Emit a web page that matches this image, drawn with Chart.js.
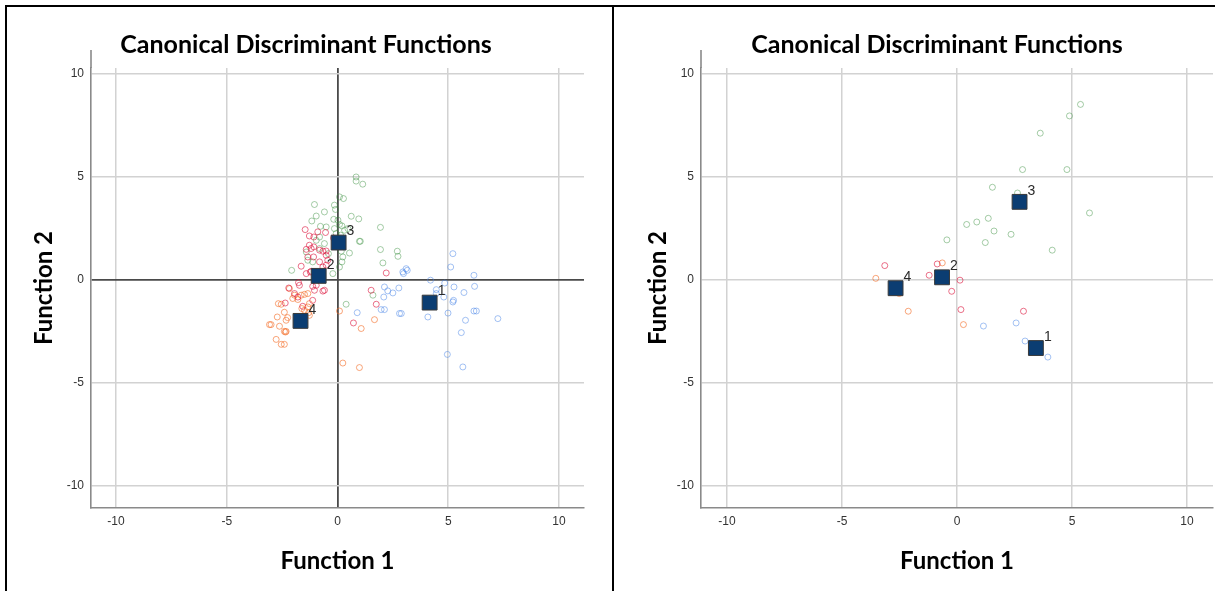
<!DOCTYPE html>
<html>
<head>
<meta charset="utf-8">
<script src="https://cdn.jsdelivr.net/npm/chart.js@4.4.1/dist/chart.umd.min.js"></script>
<style>
  html, body { margin: 0; padding: 0; background: #fff; overflow: hidden; }
  body { width: 1215px; height: 591px; position: relative; }
  canvas { position: absolute; }
  .frame { position: absolute; background: #000; }
</style>
</head>
<body>
<div class="frame" style="left:5px;top:5px;width:1210px;height:2px"></div>
<div class="frame" style="left:5px;top:5px;width:2px;height:586px"></div>
<div class="frame" style="left:612px;top:5px;width:2px;height:586px"></div>
<canvas id="chartLeft" width="596" height="583" style="left:8px;top:8px"></canvas>
<canvas id="chartRight" width="646" height="583" style="left:614px;top:8px"></canvas>

<script>
// tick labels and axis ranges (same for both panels)
const axisTicks = [-10, -5, 0, 5, 10];
const xRange = [-11.13, 11.13];
const yRange = [-11.1, 10.3];

const groupNames = ['1', '2', '3', '4'];
const groupColors = ['rgba(74,134,232,0.5)', 'rgba(220,20,60,0.6)', 'rgba(56,142,60,0.45)', 'rgba(244,106,37,0.6)'];

// left panel: [function 1, function 2] scores per group
const leftGroup1 = [[2.95,0.38],[3.15,0.46],[3.1,0.54],[2.98,0.3],[2.12,-0.35],[2.27,-0.54],[2.5,-0.64],[2.77,-0.4],[2.09,-0.84],
  [0.89,-1.6],[1.97,-1.45],[2.12,-1.45],[2.8,-1.64],[2.88,-1.64],[4.2,-0.02],[4.46,-0.48],[4.84,-0.16],[5.26,-0.35],[4.8,-0.84],
  [5.21,-1.08],[4.99,-1.62],[4.08,-1.81],[6.16,0.22],[6.19,-0.32],[5.71,-0.62],[6.16,-1.52],[6.27,-1.52],[5.78,-1.97],[5.59,-2.57],
  [7.24,-1.89],[4.96,-3.63],[5.66,-4.24],[5.21,1.27],[5.11,0.62],[4.46,-0.67],[5.24,-1.0]];
const leftGroup2 = [[-1.46,2.44],[-1.27,2.13],[-1.07,2.08],[-0.89,2.33],[-0.54,2.3],[-0.18,2.03],[-1.27,1.68],[-1.07,1.6],[-1.41,1.48],
  [-1.19,1.52],[-0.81,1.44],[-0.51,1.4],[-0.66,1.39],[-0.51,1.19],[-1.34,1.11],[-1.08,1.11],[-0.44,0.95],[-0.81,0.87],[-0.51,0.71],
  [-1.64,0.66],[-0.66,0.62],[-1.23,0.38],[-1.41,0.3],[-1.18,0.41],[-0.89,0.25],[-1.76,-0.14],[-0.96,-0.27],[-0.59,-0.51],[-1.04,-0.51],
  [-2.2,-0.4],[-1.72,-0.27],[-1.94,-0.67],[-1.12,-0.32],[-0.66,-0.55],[-1.12,-1.0],[-1.79,-0.84],[-1.57,-1.29],[-2.36,-1.13],
  [1.52,-0.51],[1.75,-1.19],[2.2,0.33],[0.72,-2.1]];
const leftGroup3 = [[0.84,5.0],[0.84,4.8],[1.14,4.65],[0.09,4.03],[0.27,3.95],[-1.04,3.66],[-0.14,3.63],[-0.09,3.42],[-0.59,3.3],
  [-0.96,3.1],[-0.17,2.94],[0.02,2.9],[0.62,3.09],[0.96,2.96],[-1.16,2.86],[-0.77,2.6],[-0.51,2.57],[-0.14,2.49],[0.2,2.62],[0.09,2.69],
  [0.47,2.49],[0.32,2.41],[1.94,2.55],[0.99,1.87],[1.03,1.87],[-0.81,2.08],[-0.96,1.92],[-0.59,1.76],[0.17,1.39],[0.54,1.3],[1.94,1.47],
  [2.7,1.39],[2.73,1.14],[0.24,1.11],[0.2,0.87],[2.05,0.82],[-1.34,0.95],[-1.12,0.87],[-2.07,0.46],[-0.21,0.3],[0.09,0.62],
  [-0.41,1.27],[-0.81,1.52],[-1.41,1.35],[0.39,-1.19],[1.6,-0.75],[-0.06,2.25],[0.14,2.17]];
const leftGroup4 = [[-2.67,-1.16],[-2.54,-1.19],[-3.07,-2.18],[-2.62,-2.26],[-2.4,-2.51],[-2.32,-2.51],[-2.72,-1.81],[-2.32,-1.97],
  [-2.4,-1.58],[-2.77,-2.9],[-2.54,-3.14],[-2.4,-3.14],[-2.17,-0.43],[-1.94,-0.75],[-1.64,-0.75],[-1.49,-0.71],[-1.79,-0.96],
  [-1.34,-1.32],[-1.27,-1.16],[-1.49,-1.48],[-2.25,-1.84],[-2.35,-2.54],[-2.02,-0.91],[-1.34,-0.67],[-1.27,-1.73],[-1.61,-1.4],
  [-1.3,-1.6],[0.09,-1.52],[1.67,-1.94],[1.07,-2.37],[0.24,-4.05],[0.99,-4.27],[-3.0,-2.18]];
const leftCentroids = [[4.16,-1.11],[-0.85,0.19],[0.05,1.81],[-1.67,-2.0]];

// right panel
const rightGroup1 = [[1.15,-2.25],[2.57,-2.1],[2.96,-2.98],[3.95,-3.76]];
const rightGroup2 = [[-0.86,0.77],[-1.21,0.22],[0.13,-0.02],[-0.23,-0.56],[0.17,-1.45],[2.89,-1.53],[-3.14,0.69]];
const rightGroup3 = [[5.37,8.53],[4.89,7.97],[3.62,7.13],[2.85,5.36],[4.78,5.36],[1.54,4.5],[2.63,4.22],[5.76,3.25],[1.36,2.99],
  [0.86,2.81],[0.42,2.69],[1.61,2.37],[2.35,2.21],[1.23,1.81],[4.14,1.44],[-0.44,1.94]];
const rightGroup4 = [[-0.64,0.82],[-2.12,-1.53],[0.28,-2.18],[-2.51,-0.67],[-3.53,0.07]];
const rightCentroids = [[3.43,-3.32],[-0.65,0.12],[2.72,3.79],[-2.67,-0.41]];

const tickFont = { family: '"Liberation Sans", Arial, sans-serif', size: 12 };
const titleFont = { family: 'Lato, sans-serif', size: 25, weight: 'bold' };
const axisTitleFont = { family: 'Lato, sans-serif', size: 24, weight: 'bold' };

const extraDraw = {
  id: 'extraDraw',
  afterDatasetsDraw(chart) {
    const ctx = chart.ctx;
    chart.data.datasets.forEach((ds, i) => {
      if (!ds.centroidLabels) return;
      ctx.save();
      ctx.font = '14px "Liberation Sans", Arial, sans-serif';
      ctx.fillStyle = '#2a2a2a';
      ctx.textBaseline = 'middle';
      chart.getDatasetMeta(i).data.forEach((pt, j) => {
        ctx.fillText(ds.centroidLabels[j], pt.x + 8, pt.y - 11);
      });
      ctx.restore();
    });
  },
  afterDraw(chart) {
    // the y axis line runs a little above the plot
    const { ctx, chartArea } = chart;
    ctx.save();
    ctx.strokeStyle = '#8a8a8a';
    ctx.lineWidth = 1.6;
    ctx.beginPath();
    ctx.moveTo(chartArea.left, chartArea.top - 18);
    ctx.lineTo(chartArea.left, chartArea.top);
    ctx.stroke();
    ctx.restore();
  }
};

function makePanel(canvasId, groups, centroids, cfg) {
  const toPts = arr => arr.map(([x, y]) => ({ x, y }));
  const datasets = groups.map((g, i) => ({
    label: 'Group ' + groupNames[i],
    data: toPts(g),
    pointStyle: 'circle',
    pointRadius: 3,
    pointBorderWidth: 1,
    borderColor: groupColors[i],
    backgroundColor: 'rgba(0,0,0,0)',
    order: 1
  }));
  datasets.push({
    label: 'Group Centroid',
    data: toPts(centroids),
    pointStyle: 'rect',
    pointRadius: 10.5,
    pointBorderWidth: 1,
    borderColor: '#3a3a3a',
    backgroundColor: '#0b3d72',
    order: 0,
    centroidLabels: groupNames
  });

  const isZero = c => cfg.zeroLines && c.tick && c.tick.value === 0;
  const grid = {
    color: c => isZero(c) ? '#4a4a4a' : '#d2d2d2',
    lineWidth: c => isZero(c) ? 1.8 : 1.5,
    drawTicks: false
  };

  new Chart(document.getElementById(canvasId), {
    type: 'scatter',
    data: { datasets },
    options: {
      responsive: false,
      animation: false,
      devicePixelRatio: 1,
      layout: { padding: 0 },
      plugins: {
        legend: { display: false },
        tooltip: { enabled: false },
        title: {
          display: true,
          text: 'Canonical Discriminant Functions',
          color: '#000',
          font: titleFont,
          padding: { top: 22, bottom: 8 }
        }
      },
      scales: {
        x: {
          type: 'linear',
          min: xRange[0], max: xRange[1],
          afterBuildTicks: s => { s.ticks = axisTicks.map(v => ({ value: v })); },
          afterFit: s => { s.height = 83; },
          grid,
          border: { color: '#8a8a8a', width: 1.6 },
          ticks: { color: '#333', font: tickFont, padding: 6 },
          title: { display: true, text: 'Function 1', color: '#000', font: axisTitleFont, padding: { top: 0, bottom: 15.6 } }
        },
        y: {
          type: 'linear',
          min: yRange[0], max: yRange[1],
          afterBuildTicks: s => { s.ticks = axisTicks.map(v => ({ value: v })); },
          afterFit: s => { s.width = cfg.yWidth; },
          grid,
          border: { color: '#8a8a8a', width: 1.6 },
          ticks: { color: '#333', font: tickFont, padding: 7 },
          title: { display: true, text: 'Function 2', color: '#000', font: axisTitleFont, padding: { top: cfg.yTitlePad, bottom: 0 } }
        },
        // empty strip on the right so the title sits where it does in the original
        pad: {
          type: 'linear',
          position: 'right',
          afterFit: s => { s.width = cfg.padRight; },
          grid: { display: false },
          border: { display: false },
          ticks: { display: false }
        }
      }
    },
    plugins: [extraDraw]
  });
}

makePanel('chartLeft', [leftGroup1, leftGroup2, leftGroup3, leftGroup4], leftCentroids,
  { yWidth: 83, padRight: 20, yTitlePad: 21.6, zeroLines: true });
makePanel('chartRight', [rightGroup1, rightGroup2, rightGroup3, rightGroup4], rightCentroids,
  { yWidth: 87, padRight: 47, yTitlePad: 29.6, zeroLines: false });
</script>
</body>
</html>
